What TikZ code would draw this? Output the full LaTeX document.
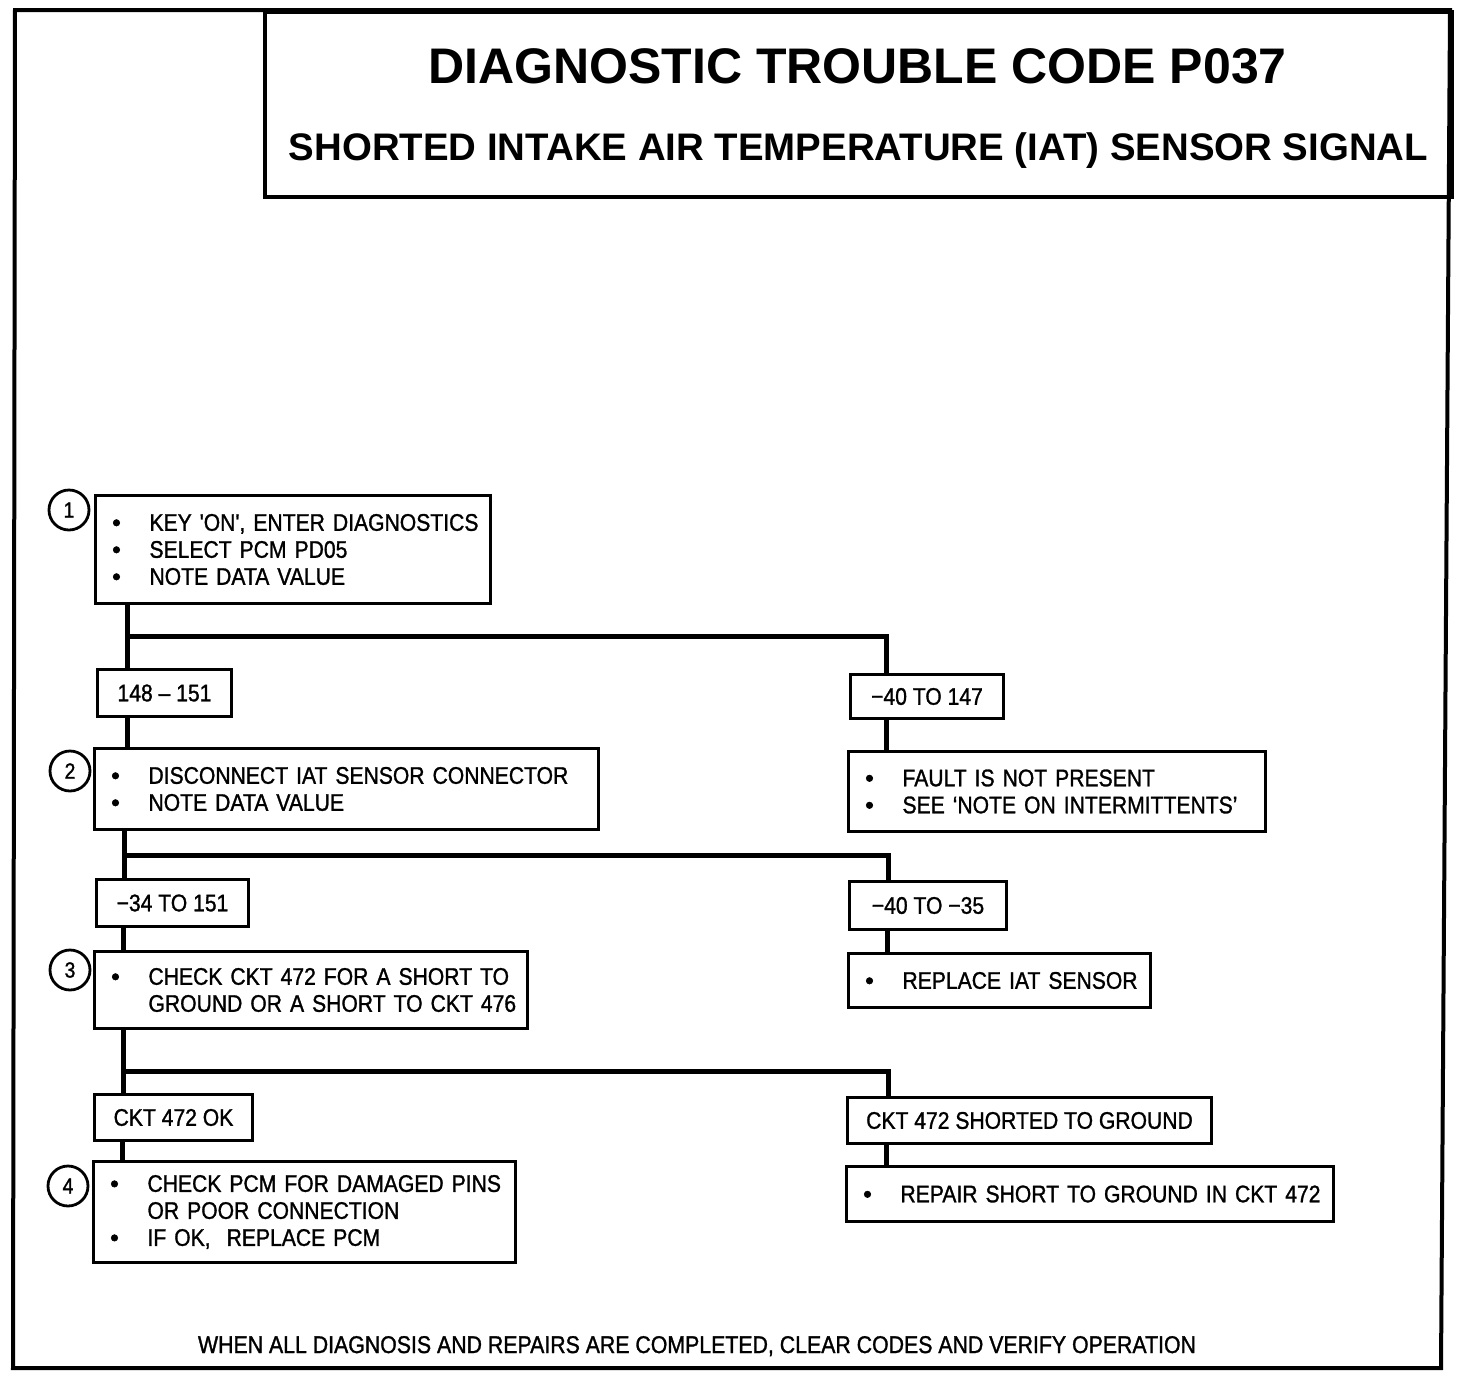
\documentclass[tikz,border=0pt]{standalone}
\usepackage{fontspec}
\setmainfont{Liberation Sans}
\newfontfamily\boxfont[FakeStretch=0.88,FakeBold=1.2]{Liberation Sans}
\newfontfamily\bulfont[FakeBold=2.5]{Liberation Sans}
\newcommand\bul{\makebox[54pt][l]{\hspace{10pt}\makebox[22pt]{{\bulfont\textbullet}}}}
\newcommand\ind{\hspace*{54pt}}
\begin{document}
\begin{tikzpicture}[x=1pt,y=-1pt,
  stepbox/.style={draw, line width=3pt, anchor=north west, inner xsep=0pt, inner ysep=2pt,
    align=left, font=\boxfont\fontsize{24}{27}\selectfont},
  labelbox/.style={draw, line width=3pt, anchor=north west, inner sep=2pt,
    font=\boxfont\fontsize{24}{27}\selectfont},
  numcirc/.style={draw, circle, line width=2.8pt, minimum size=40pt, inner sep=0pt,
    font=\boxfont\fontsize{22}{22}\selectfont},
  conn/.style={line width=5pt}]
\useasboundingbox (0,0) rectangle (1472,1376);
% outer frame
\draw[line width=4pt] (15,10) -- (1450,10) -- (1441,1368) -- (13,1368) -- cycle;
% title
\node[draw, line width=3.5pt, anchor=north west, minimum width=1187pt, minimum height=185pt, inner sep=0pt] (tbox) at (263,10) {};
\node[anchor=base, font=\bfseries\fontsize{50}{50}\selectfont] (t1) at (857.5,83) {DIAGNOSTIC TROUBLE CODE P037};
\node[anchor=base, font=\bfseries\fontsize{38.4}{40}\selectfont] (t2) at (858.5,160) {SHORTED INTAKE AIR TEMPERATURE (IAT) SENSOR SIGNAL};

% step boxes
\node[stepbox, text width=395pt, minimum height=108pt] (b1) at (94,494)
  {\bul KEY 'ON', ENTER DIAGNOSTICS\\ \bul SELECT PCM PD05\\ \bul NOTE DATA VALUE};
\node[numcirc] (n1) at (69,510) {1};

\node[labelbox, minimum width=134pt, minimum height=47pt] (L1) at (96,668) {148 – 151};
\node[labelbox, minimum width=153pt, minimum height=44pt] (R1) at (849,673) {−40 TO 147};

\node[stepbox, text width=504pt, minimum height=81pt] (b2) at (93,747)
  {\bul DISCONNECT IAT SENSOR CONNECTOR\\ \bul NOTE DATA VALUE};
\node[numcirc] (n2) at (70,771) {2};
\node[stepbox, text width=417pt, minimum height=80pt] (F1) at (847,750)
  {\bul FAULT IS NOT PRESENT\\ \bul SEE ‘NOTE ON INTERMITTENTS’};

\node[labelbox, minimum width=152pt, minimum height=47pt] (L2) at (95,878) {−34 TO 151};
\node[labelbox, minimum width=157pt, minimum height=48pt] (R2) at (848,880) {−40 TO −35};

\node[stepbox, text width=433pt, minimum height=77pt] (b3) at (93,950)
  {\bul CHECK CKT 472 FOR A SHORT TO\\ \ind GROUND OR A SHORT TO CKT 476};
\node[numcirc] (n3) at (70,970) {3};
\node[stepbox, text width=302pt, minimum height=54pt] (F2) at (847,952)
  {\bul REPLACE IAT SENSOR};

\node[labelbox, minimum width=158pt, minimum height=46pt] (L3) at (93,1093) {CKT 472 OK};
\node[labelbox, minimum width=364pt, minimum height=46pt] (R3) at (846,1096) {CKT 472 SHORTED TO GROUND};

\node[stepbox, text width=422pt, minimum height=101pt] (b4) at (92,1160)
  {\bul CHECK PCM FOR DAMAGED PINS\\ \ind OR POOR CONNECTION\\ \bul IF OK,\ \ REPLACE PCM};
\node[numcirc] (n4) at (68,1186) {4};
\node[stepbox, text width=487pt, minimum height=55pt] (F3) at (845,1165)
  {\bul REPAIR SHORT TO GROUND IN CKT 472};

% footer
\node[anchor=base, font=\boxfont\fontsize{24.2}{25}\selectfont] (foot) at (697,1353)
  {WHEN ALL DIAGNOSIS AND REPAIRS ARE COMPLETED, CLEAR CODES AND VERIFY OPERATION};

% connectors
\coordinate (j1) at (127,636);
\coordinate (r1) at (886,636);
\draw[conn] (j1 |- b1.south) -- (j1 |- L1.north);
\draw[conn] (j1) -- (r1) -- (r1 |- R1.north);
\draw[conn] (j1 |- L1.south) -- (j1 |- b2.north);
\draw[conn] (r1 |- R1.south) -- (r1 |- F1.north);

\coordinate (j2) at (124,855);
\coordinate (r2) at (888,855);
\draw[conn] (j2 |- b2.south) -- (j2 |- L2.north);
\draw[conn] (j2) -- (r2) -- (r2 |- R2.north);
\coordinate (j2b) at (123,855);
\coordinate (r2b) at (887,855);
\draw[conn] (j2b |- L2.south) -- (j2b |- b3.north);
\draw[conn] (r2b |- R2.south) -- (r2b |- F2.north);

\coordinate (j3) at (123,1071);
\coordinate (r3) at (888,1071);
\draw[conn] (j3 |- b3.south) -- (j3 |- L3.north);
\draw[conn] (j3) -- (r3) -- (r3 |- R3.north);
\coordinate (j3b) at (122,1071);
\coordinate (r3b) at (886,1071);
\draw[conn] (j3b |- L3.south) -- (j3b |- b4.north);
\draw[conn] (r3b |- R3.south) -- (r3b |- F3.north);
\end{tikzpicture}
\end{document}
